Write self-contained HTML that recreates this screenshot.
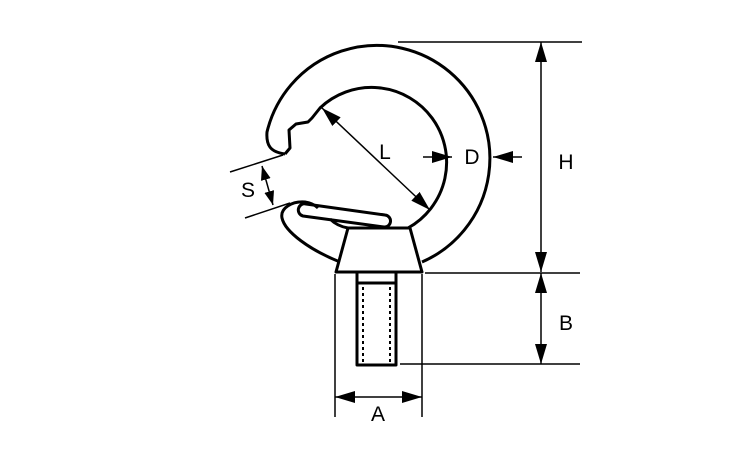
<!DOCTYPE html>
<html><head><style>
html,body{margin:0;padding:0;background:#fff;}
svg{display:block;}
text{font-family:"Liberation Sans",sans-serif;font-size:21px;fill:#000;}
</style></head><body>
<svg width="750" height="450" viewBox="0 0 750 450">
<defs>
<marker id="a" viewBox="0 0 14 10" refX="14" refY="5" markerWidth="14" markerHeight="10" orient="auto-start-reverse" markerUnits="userSpaceOnUse">
<path d="M0,0 L14,5 L0,10 z" fill="#000"/>
</marker>
<marker id="b" viewBox="0 0 20 12" refX="20" refY="6" markerWidth="20" markerHeight="12" orient="auto-start-reverse" markerUnits="userSpaceOnUse">
<path d="M0,0 L20,6 L0,12 z" fill="#000"/>
</marker>
</defs>
<g fill="none" stroke="#000" stroke-width="3" stroke-linejoin="round">
<path d="M285,154 C270,152 266,145 267,132 A113,113 0 1 1 422,262"/>
<path d="M285,154 L290,148 L289,130 L296,124 L308,122 L312,118 L320,108 A75,75 0 1 1 408,228"/>
<path d="M340,262 C310,250 285,232 282,218 C280,208 292,201 305,202 C312,203 316,206 318,208"/>
<path d="M330,219 C336,225 342,227 348,228"/>
<path d="M306,204 L385,215 A6,6 0 0 1 384,227 L303,216 A6,6 0 0 1 306,204 Z"/>
<path d="M348,228 L410,228 L422,272 L336,272 Z"/>
<rect x="357" y="272" width="39" height="93"/>
<line x1="357" y1="283" x2="396" y2="283"/>
</g>
<g stroke="#000" stroke-width="2" stroke-dasharray="3,3" fill="none">
<line x1="363" y1="287" x2="363" y2="362"/>
<line x1="390" y1="287" x2="390" y2="362"/>
</g>
<g stroke="#000" stroke-width="1.5" fill="none">
<line x1="398" y1="42" x2="582" y2="42"/>
<line x1="541" y1="42" x2="541" y2="272" marker-start="url(#b)" marker-end="url(#b)"/>
<line x1="425" y1="273" x2="580" y2="273"/>
<line x1="400" y1="364" x2="580" y2="364"/>
<line x1="541" y1="273" x2="541" y2="364" marker-start="url(#b)" marker-end="url(#b)"/>
<line x1="335" y1="274" x2="335" y2="417"/>
<line x1="422" y1="274" x2="422" y2="417"/>
<line x1="335" y1="397" x2="422" y2="397" marker-start="url(#b)" marker-end="url(#b)"/>
<line x1="423" y1="157" x2="452" y2="157" marker-end="url(#b)"/>
<line x1="522" y1="157" x2="493" y2="157" marker-end="url(#b)"/>
<line x1="322" y1="108" x2="430" y2="210" marker-start="url(#b)" marker-end="url(#b)"/>
<line x1="230" y1="172" x2="283" y2="155"/>
<line x1="245" y1="218" x2="290" y2="203"/>
<line x1="262" y1="166" x2="273" y2="205" marker-start="url(#a)" marker-end="url(#a)"/>
</g>
<text x="378" y="421" text-anchor="middle">A</text>
<text x="566" y="330" text-anchor="middle">B</text>
<text x="566" y="169" text-anchor="middle">H</text>
<text x="472" y="164" text-anchor="middle">D</text>
<text x="385" y="159" text-anchor="middle">L</text>
<text x="248" y="197" text-anchor="middle">S</text>
</svg>
</body></html>
